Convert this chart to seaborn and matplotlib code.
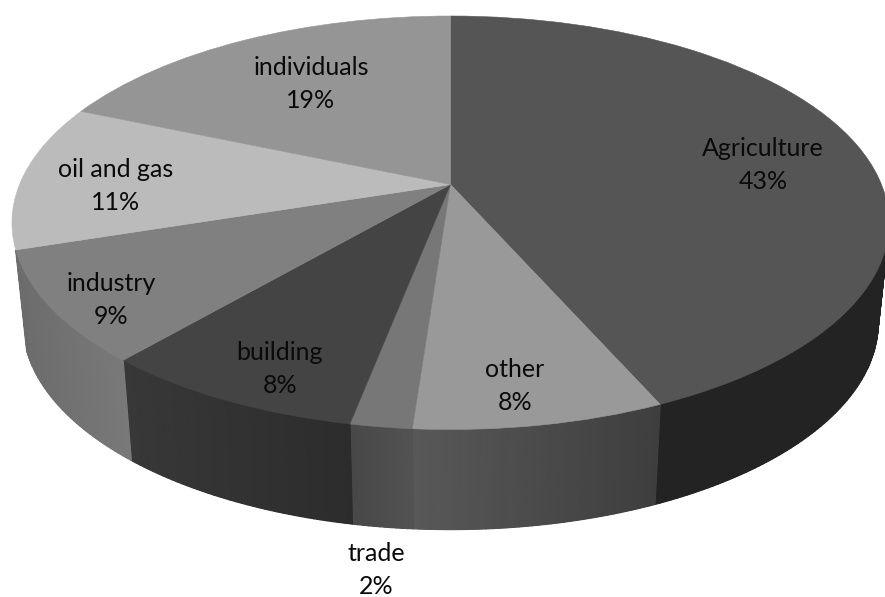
import numpy as np
import matplotlib
matplotlib.use("Agg")
import matplotlib.pyplot as plt
from matplotlib.colors import to_rgb
from matplotlib.transforms import Transform
import seaborn as sns

categories = ["Agriculture", "other", "trade", "building", "industry", "oil and gas", "individuals"]
shares = [43.38, 7.77, 1.91, 8.27, 8.67, 11.43, 18.57]
top_colors = ["#555555", "#999999", "#777777", "#444444", "#808080", "#bbbbbb", "#959595"]
wall_left = ["#232323", "#585858", "#484848", "#383838", "#6c6c6c", None, None]
wall_right = ["#232323", "#3e3e3e", "#525252", "#2c2c2c", "#797979", None, None]
label_x = [763, 515, 376, 280, 111, 116, 311]
label_y = [165, 386, 570, 369, 300, 186, 84]

# view geometry of the tilted disc, in figure pixels
apex_x, apex_y, top_y, front_y = 450.5, 184.5, 16.0, 429.5
disc_r = 431.0
depth, base_scale = 100.0, 0.975
tilt = ((front_y - apex_y) - (apex_y - top_y)) / ((front_y - apex_y) + (apex_y - top_y))
y_gain = (apex_y - top_y) * (1 + tilt)


class DiscView(Transform):
    input_dims = output_dims = 2
    is_separable = False

    def transform_non_affine(self, pts):
        pts = np.asarray(pts, dtype=float)
        w = 1 + tilt * pts[:, 1]
        return np.column_stack([apex_x + disc_r * pts[:, 0] / w,
                                apex_y - y_gain * pts[:, 1] / w])


view = DiscView()

sns.set_theme(style="white")
plt.rcParams["font.family"] = ["Lato", "DejaVu Sans"]

fig = plt.figure(figsize=(8.85, 5.97), dpi=100, facecolor="white")
ax = fig.add_axes([0, 0, 1, 1])

# side wall: solid base per slice, shaded strips on top, along the rim facing the viewer
edges = np.concatenate([[0], np.cumsum(shares)]) / np.sum(shares) * 2 * np.pi
for i in range(len(shares)):
    if wall_left[i] is None:
        continue
    a0, a1 = edges[i], edges[i + 1]
    ang = np.linspace(a0, a1, max(12, int((a1 - a0) * 80)))
    ang = ang[np.cos(ang) < -tilt]
    p = view.transform_non_affine(np.column_stack([np.sin(ang), np.cos(ang)]))
    bx = apex_x + base_scale * (p[:, 0] - apex_x)
    by = p[:, 1] + depth
    x_lo, x_hi = p[:, 0].min(), p[:, 0].max()
    c0, c1 = np.array(to_rgb(wall_left[i])), np.array(to_rgb(wall_right[i]))
    ax.fill(np.r_[p[:, 0], bx[::-1]], np.r_[p[:, 1], by[::-1]],
            color=tuple((c0 + c1) / 2), lw=0.3, zorder=1)
    for j in range(len(ang) - 1):
        t = (0.5 * (p[j, 0] + p[j + 1, 0]) - x_lo) / max(x_hi - x_lo, 1)
        ax.fill([p[j, 0], p[j + 1, 0], bx[j + 1], bx[j]],
                [p[j, 1], p[j + 1, 1], by[j + 1], by[j]],
                color=tuple(c0 + (c1 - c0) * t), lw=1.0, zorder=1)

wedges, _ = ax.pie(shares, colors=top_colors, startangle=90, counterclock=False,
                   wedgeprops=dict(linewidth=0.4))
for w, c in zip(wedges, top_colors):
    w.set_edgecolor(c)
    w.set_transform(view + ax.transData)
    w.set_zorder(2)

for name, v, x, y in zip(categories, shares, label_x, label_y):
    ax.text(x, y, f"{name}\n{round(v)}%", ha="center", va="center", fontsize=18,
            linespacing=1.55, color="#0a0a0a", zorder=3)

ax.set_aspect("auto")
ax.set_xlim(0, 885)
ax.set_ylim(597, 0)
ax.axis("off")
fig.savefig("out.png", dpi=100)
